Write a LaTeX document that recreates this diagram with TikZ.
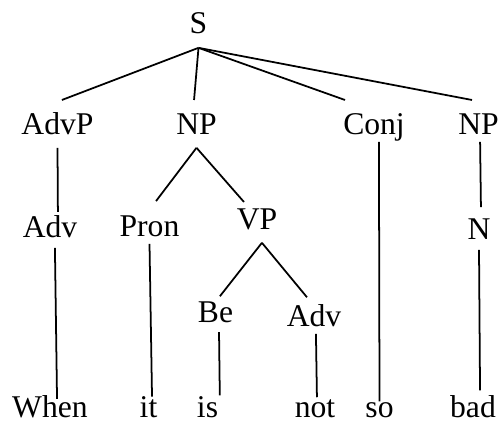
\documentclass[tikz,border=0pt]{standalone}
\usepackage{fontspec}
\setmainfont{Liberation Serif}
\usepackage{tikz}
\tikzset{
    % tree labels
    cat/.style={inner sep=0pt, outer sep=0pt, text height=12.3pt, text depth=4pt, font=\fontsize{18}{22}\selectfont},
    word/.style={cat, text depth=0pt},
    branch/.style={draw, line width=1pt}
}
\begin{document}
\begin{tikzpicture}[scale=1]
    \useasboundingbox (0, 0) rectangle (10, 8.5);
    % root
    \node[cat] (S) at (3.97, 7.97) {S};

    % first level
    \node[cat] (AdvP) at (1.15, 5.95) {AdvP};
    \node[cat] (NPa) at (3.93, 5.95) {NP};
    \node[cat] (Conj) at (7.48, 5.95) {Conj};
    \node[cat] (NPb) at (9.57, 5.95) {NP};

    % second level
    \node[cat] (Adva) at (1.00, 3.89) {Adv};
    \node[cat] (Pron) at (2.99, 3.91) {Pron};
    \node[cat] (VP) at (5.14, 4.05) {VP};
    \node[cat] (N) at (9.58, 3.85) {N};

    % third level
    \node[cat] (Be) at (4.31, 2.19) {Be};
    \node[cat] (Advb) at (6.28, 2.11) {Adv};

    % words
    \node[word] (when) at (1.00, 0.36) {When};
    \node[word] (it) at (2.97, 0.36) {it};
    \node[word] (is) at (4.15, 0.36) {is};
    \node[word] (not) at (6.30, 0.36) {not};
    \node[word] (so) at (7.59, 0.36) {so};
    \node[word] (bad) at (9.46, 0.36) {bad};

    % branches from S
    \draw[branch] ([yshift=-4pt]S.south) -- ([xshift=2.5pt, yshift=7.5pt]AdvP.north);
    \draw[branch] ([yshift=-4pt]S.south) -- ([xshift=-1.4pt, yshift=7.5pt]NPa.north);
    \draw[branch] ([yshift=-4pt]S.south) -- ([xshift=1pt, yshift=7.5pt]Conj.north west);
    \draw[branch] ([yshift=-4pt]S.south) -- ([xshift=-3.7pt, yshift=7.5pt]NPb.north);

    % branches below first level
    \draw[branch] ([yshift=-3.4pt]AdvP.south) -- ([xshift=4.5pt, yshift=2.4pt]Adva.north);
    \draw[branch] ([yshift=-3.4pt]NPa.south) -- ([xshift=3.7pt, yshift=8pt]Pron.north);
    \draw[branch] ([yshift=-3.4pt]NPa.south) -- ([xshift=-7.4pt, yshift=3.5pt]VP.north);
    \draw[branch] ([xshift=2.8pt]Conj.south) -- ([yshift=-3pt]so.north);
    \draw[branch] ([xshift=0.9pt]NPb.south) -- ([xshift=1.1pt, yshift=6.3pt]N.north);

    % branches below second level
    \draw[branch] ([xshift=2.8pt, yshift=-1.7pt]Adva.south) -- ([xshift=4pt, yshift=-1.5pt]when.north);
    \draw[branch] (Pron.south) -- ([xshift=2pt, yshift=-0.2pt]it.north);
    \draw[branch] ([xshift=2.8pt, yshift=-3.4pt]VP.south) -- ([xshift=2.5pt, yshift=2.8pt]Be.north);
    \draw[branch] ([xshift=2.8pt, yshift=-3.4pt]VP.south) -- ([xshift=-4pt, yshift=4.5pt]Advb.north);
    \draw[branch] ([yshift=-1.7pt]N.south) -- ([xshift=4pt, yshift=3.3pt]bad.north);

    % branches below third level
    \draw[branch] ([xshift=2pt, yshift=-1.3pt]Be.south) -- ([xshift=7pt, yshift=0.5pt]is.north);
    \draw[branch] ([xshift=1.1pt]Advb.south) -- ([xshift=1.1pt, yshift=-0.6pt]not.north);
\end{tikzpicture}
\end{document}
